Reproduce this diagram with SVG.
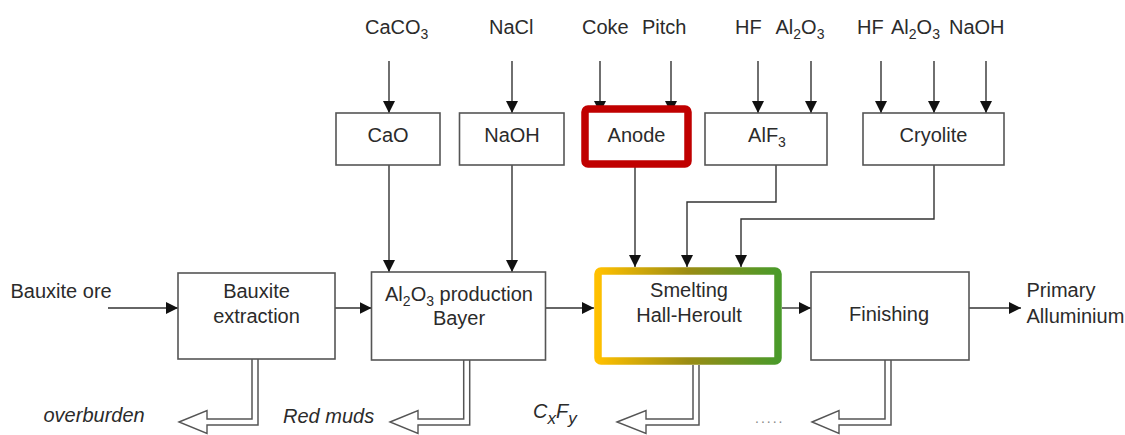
<svg xmlns="http://www.w3.org/2000/svg" width="1125" height="435" viewBox="0 0 1125 435">
<style>
text{font-family:"Liberation Sans",Arial,Helvetica,sans-serif;font-size:20px;fill:#2b2b2b}
.it{font-style:italic}
.sub{font-size:14px}
.box{fill:#fff;stroke:#555;stroke-width:1.6}
.ln{fill:none;stroke:#333;stroke-width:1.4}
.po{fill:none;stroke:#555;stroke-width:7.5}
.pi{fill:none;stroke:#fff;stroke-width:4.5}
.hd{fill:#fff;stroke:#555;stroke-width:1.4}
</style>
<defs>
<marker id="ah" markerUnits="userSpaceOnUse" markerWidth="12" markerHeight="12" refX="12" refY="6" orient="auto">
<path d="M0,0 L12,6 L0,12 z" fill="#111"/>
</marker>
<linearGradient id="sg" x1="0" y1="0" x2="1" y2="0">
<stop offset="0" stop-color="#FFC000"/>
<stop offset="0.5" stop-color="#9A8C14"/>
<stop offset="1" stop-color="#4A9A2A"/>
</linearGradient>
</defs>
<rect width="1125" height="435" fill="#fff"/>

<g id="connectors">
<path class="ln" marker-end="url(#ah)" d="M389,61 V113"/>
<path class="ln" marker-end="url(#ah)" d="M512,61 V113"/>
<path class="ln" marker-end="url(#ah)" d="M600,61 V113"/>
<path class="ln" marker-end="url(#ah)" d="M671,61 V113"/>
<path class="ln" marker-end="url(#ah)" d="M758,61 V113"/>
<path class="ln" marker-end="url(#ah)" d="M811,61 V113"/>
<path class="ln" marker-end="url(#ah)" d="M881,61 V113"/>
<path class="ln" marker-end="url(#ah)" d="M934,61 V113"/>
<path class="ln" marker-end="url(#ah)" d="M986,61 V113"/>
<path class="ln" marker-end="url(#ah)" d="M389,165 V272"/>
<path class="ln" marker-end="url(#ah)" d="M512,165 V272"/>
<path class="ln" marker-end="url(#ah)" d="M635,167 V267"/>
<path class="ln" marker-end="url(#ah)" d="M776,165 V202 H687 V267"/>
<path class="ln" marker-end="url(#ah)" d="M934,165 V219 H741 V267"/>
<path class="ln" marker-end="url(#ah)" d="M108,308 H178"/>
<path class="ln" marker-end="url(#ah)" d="M335,308 H371.5"/>
<path class="ln" marker-end="url(#ah)" d="M545.5,308 H594"/>
<path class="ln" marker-end="url(#ah)" d="M782,308 H811"/>
<path class="ln" marker-end="url(#ah)" d="M969,308 H1021"/>
<!-- waste pipes -->
<polygon class="hd" points="179,422 207,410.5 207,433.5"/>
<path class="po" d="M255,359 V422 H207"/>
<path class="pi" d="M255,359 V422 H205"/>
<polygon class="hd" points="390,422 418,410.5 418,433.5"/>
<path class="po" d="M466.7,360 V422 H418"/>
<path class="pi" d="M466.7,360 V422 H416"/>
<polygon class="hd" points="617,422 646,410.5 646,433.5"/>
<path class="po" d="M696,365 V422 H646"/>
<path class="pi" d="M696,365 V422 H644"/>
<polygon class="hd" points="812,422 839,410.5 839,433.5"/>
<path class="po" d="M888,360 V422 H839"/>
<path class="pi" d="M888,360 V422 H837"/>
</g>

<g id="inputs">
<text x="365" y="34">CaCO<tspan class="sub" dy="5">3</tspan></text>
<text x="489" y="34">NaCl</text>
<text x="582" y="34">Coke</text>
<text x="642" y="34">Pitch</text>
<text x="735" y="34">HF</text>
<text x="775.5" y="34">Al<tspan class="sub" dy="5">2</tspan><tspan dy="-5">O</tspan><tspan class="sub" dy="5">3</tspan></text>
<text x="857" y="34">HF</text>
<text x="891" y="34">Al<tspan class="sub" dy="5">2</tspan><tspan dy="-5">O</tspan><tspan class="sub" dy="5">3</tspan></text>
<text x="949" y="34">NaOH</text>
<text x="10.5" y="298">Bauxite ore</text>
<text x="1026.5" y="297">Primary</text>
<text x="1026.5" y="323">Alluminium</text>
</g>

<g id="node-cao">
<rect class="box" x="336" y="113" width="104" height="52"/>
<text x="388" y="142" text-anchor="middle">CaO</text>
</g>
<g id="node-naoh">
<rect class="box" x="459.5" y="113" width="104.5" height="52"/>
<text x="512" y="142" text-anchor="middle">NaOH</text>
</g>
<g id="node-anode">
<rect x="585" y="109" width="103" height="55" rx="3" fill="#fff" stroke="#C00000" stroke-width="7.5"/>
<text x="636.5" y="142" text-anchor="middle">Anode</text>
</g>
<g id="node-alf3">
<rect class="box" x="705" y="113" width="122" height="52"/>
<text x="767" y="142" text-anchor="middle">AlF<tspan class="sub" dy="5">3</tspan></text>
</g>
<g id="node-cryolite">
<rect class="box" x="863" y="113" width="141" height="52"/>
<text x="933.5" y="142" text-anchor="middle">Cryolite</text>
</g>
<g id="node-bauxite">
<rect class="box" x="178" y="273" width="157" height="86"/>
<text x="256.5" y="298" text-anchor="middle">Bauxite</text>
<text x="256.5" y="323" text-anchor="middle">extraction</text>
</g>
<g id="node-bayer">
<rect class="box" x="371.5" y="272" width="174" height="88"/>
<text x="459" y="301" text-anchor="middle">Al<tspan class="sub" dy="5">2</tspan><tspan dy="-5">O</tspan><tspan class="sub" dy="5">3</tspan><tspan dy="-5"> production</tspan></text>
<text x="459" y="325" text-anchor="middle">Bayer</text>
</g>
<g id="node-smelting">
<rect x="598" y="271" width="180" height="90" rx="3" fill="#fff" stroke="url(#sg)" stroke-width="7.5"/>
<text x="689" y="297" text-anchor="middle">Smelting</text>
<text x="689" y="322" text-anchor="middle">Hall-Heroult</text>
</g>
<g id="node-finishing">
<rect class="box" x="811" y="272" width="158" height="88"/>
<text x="889" y="321" text-anchor="middle">Finishing</text>
</g>

<g id="outputs">
<text class="it" x="43.5" y="422">overburden</text>
<text class="it" x="283" y="423">Red muds</text>
<text class="it" x="533" y="418">C<tspan font-size="17" dy="6">x</tspan><tspan dy="-6">F</tspan><tspan font-size="17" dy="6">y</tspan></text>
<text x="755" y="423" font-size="14" fill="#888" letter-spacing="2" style="font-size:14px;fill:#888">.....</text>
</g>
</svg>
